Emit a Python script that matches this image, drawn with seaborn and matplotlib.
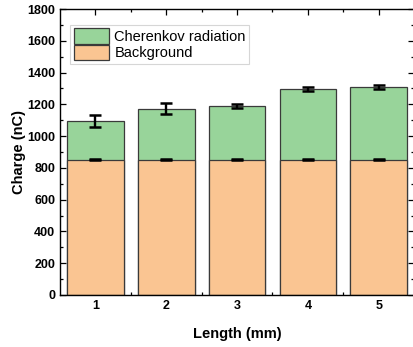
import matplotlib
matplotlib.use("Agg")
import matplotlib.pyplot as plt
import seaborn as sns
import pandas as pd
from matplotlib.patches import Patch
from matplotlib.ticker import MultipleLocator

lengths = ["1", "2", "3", "4", "5"]
background = [852, 852, 852, 852, 852]
background_err = [4, 4, 4, 4, 4]
total = [1095, 1172, 1188, 1297, 1310]
total_err = [35, 34, 12, 12, 12]

sns.set_theme(style="ticks")
plt.rcParams["font.family"] = ["Liberation Sans", "DejaVu Sans"]
plt.rcParams["text.color"] = "black"
plt.rcParams["axes.labelcolor"] = "black"
plt.rcParams["xtick.color"] = "black"
plt.rcParams["ytick.color"] = "black"

df = pd.DataFrame({"Length": lengths, "Background": background, "Total": total})

fig = plt.figure(figsize=(4.13, 3.47), dpi=100)
ax = fig.add_axes([0.145, 0.150, 0.858, 0.824])

green = "#98D49A"
orange = "#FAC592"
edge = "#3a3a3a"

sns.barplot(data=df, x="Length", y="Total", order=lengths, color=green,
            edgecolor=edge, linewidth=0.9, width=0.8, saturation=1, ax=ax, errorbar=None)
sns.barplot(data=df, x="Length", y="Background", order=lengths, color=orange,
            edgecolor=edge, linewidth=0.9, width=0.8, saturation=1, ax=ax, errorbar=None)

xs = list(range(len(lengths)))
ax.errorbar(xs, total, yerr=total_err, fmt="none", ecolor="black",
            elinewidth=1.7, capsize=4, capthick=1.8, zorder=5)
ax.errorbar(xs, background, yerr=background_err, fmt="none", ecolor="black",
            elinewidth=1.7, capsize=4, capthick=1.8, zorder=5)

ax.set_xlim(-0.5, 4.5)
ax.set_ylim(0, 1800)
ax.yaxis.set_major_locator(MultipleLocator(200))
ax.yaxis.set_minor_locator(MultipleLocator(100))
ax.set_xticks([0.5, 1.5, 2.5, 3.5], minor=True)

ax.tick_params(which="both", direction="in", top=True, right=True,
               labelsize=9, width=0.9, color="black", labelcolor="black")
ax.tick_params(which="major", length=4)
ax.tick_params(which="minor", length=2)
for lab in ax.get_xticklabels() + ax.get_yticklabels():
    lab.set_fontweight("bold")

for s in ax.spines.values():
    s.set_linewidth(1.0)
    s.set_color("black")

ax.set_xlabel("Length (mm)", fontsize=10.5, fontweight="bold", labelpad=11, color="black")
ax.set_ylabel("Charge (nC)", fontsize=10.5, fontweight="bold", labelpad=1, color="black")

handles = [Patch(facecolor=green, edgecolor=edge, linewidth=0.9, label="Cherenkov radiation"),
           Patch(facecolor=orange, edgecolor=edge, linewidth=0.9, label="Background")]
leg = ax.legend(handles=handles, loc="upper left", bbox_to_anchor=(0.02, 0.955),
                fontsize=10.5, frameon=True, fancybox=False, edgecolor="#cccccc",
                handlelength=2.4, handleheight=1.25, handletextpad=0.4,
                borderpad=0.25, labelspacing=0.05, borderaxespad=0.2)
leg.get_frame().set_linewidth(0.8)

fig.savefig("out.png", dpi=100)
